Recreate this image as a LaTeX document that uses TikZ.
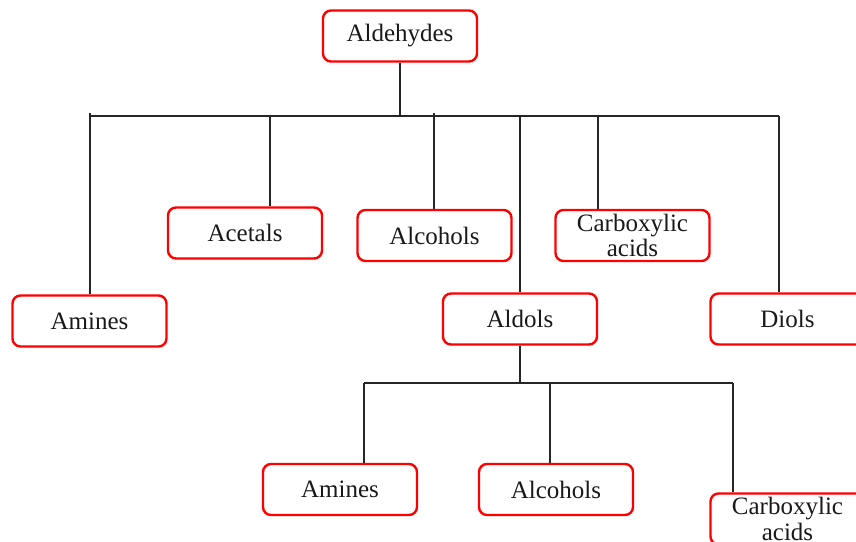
\documentclass[tikz,border=0pt]{standalone}
\usepackage{fontspec}
\setmainfont{Liberation Serif}
\begin{document}
\begin{tikzpicture}[x=1pt,y=-1pt,
  box/.style={draw=red,line width=2.4pt,rounded corners=8pt,fill=white,
    minimum width=154pt,minimum height=51pt,inner sep=0pt,align=center,
    font=\fontsize{25}{25.5}\selectfont,text=black!90},
  conn/.style={draw=black!85,line width=1.3pt}]
\useasboundingbox[fill=white] (0,0) rectangle (856,541);
% nodes
\node[box] (aldehydes) at (400,36) {Aldehydes};
\node[box] (amines1) at (89.5,321) {Amines};
\node[box] (acetals) at (245,233) {Acetals};
\node[box] (alcohols1) at (434.5,235.5) {Alcohols};
\node[box] (carbox1) at (632.5,235.5) {Carboxylic\\acids};
\node[box] (aldols) at (520,319) {Aldols};
\node[box] (diols) at (787.5,319) {Diols};
\node[box] (amines2) at (340,489.5) {Amines};
\node[box] (alcohols2) at (556,489.5) {Alcohols};
\node[box] (carbox2) at (787.5,519) {Carboxylic\\acids};
% upper bus
\coordinate (busL) at (90,116);
\coordinate (busR) at (779,116);
\coordinate (tAmines) at (90,113);
\coordinate (tAcet) at (270,116);
\coordinate (tAlc) at (434,113);
\coordinate (tAld) at (520,116);
\coordinate (tCarb) at (598,116);
\coordinate (tDiol) at (779,116);
\path[conn] (busL) -- (busR);
\path[conn] (aldehydes.south) -- (aldehydes.south |- busL);
\path[conn] (tAmines) -- (tAmines |- amines1.north);
\path[conn] (tAcet) -- (tAcet |- acetals.north);
\path[conn] (tAlc) -- (tAlc |- alcohols1.north);
\path[conn] (tAld) -- (aldols.north);
\path[conn] (tCarb) -- (tCarb |- carbox1.north);
\path[conn] (tDiol) -- (tDiol |- diols.north);
% lower bus
\coordinate (lbusL) at (364,383);
\coordinate (lbusR) at (733,383);
\coordinate (lAlc) at (550,383);
\path[conn] (lbusL) -- (lbusR);
\path[conn] (aldols.south) -- (aldols.south |- lbusL);
\path[conn] (lbusL) -- (lbusL |- amines2.north);
\path[conn] (lAlc) -- (lAlc |- alcohols2.north);
\path[conn] (lbusR) -- (lbusR |- carbox2.north);
\end{tikzpicture}
\end{document}
